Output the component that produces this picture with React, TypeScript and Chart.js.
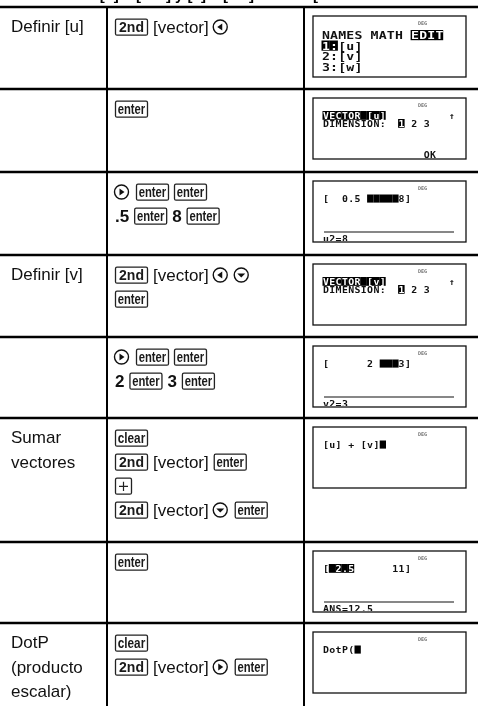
import React, { useEffect, useRef } from "react";
import { Chart, registerables } from "chart.js";

Chart.register(...registerables);

// ---- table data ----
const rowTops = [7, 89, 172, 255, 337, 418, 542, 623];
const tableBottom = 706;
const columnEdges = [107, 304];

const tasks = [
  "Definir [u]",
  "",
  "",
  "Definir [v]",
  "",
  "Sumar\nvectores",
  "",
  "DotP\n(producto\nescalar)",
];

const keystrokes: string[][][] = [
  [["key:2nd", "txt:[vector]", "arrow:left"]],
  [["key:enter"]],
  [["arrow:right", "key:enter", "key:enter"], ["num:.5", "key:enter", "num:8", "key:enter"]],
  [["key:2nd", "txt:[vector]", "arrow:left", "arrow:down"], ["key:enter"]],
  [["arrow:right", "key:enter", "key:enter"], ["num:2", "key:enter", "num:3", "key:enter"]],
  [["key:clear"], ["key:2nd", "txt:[vector]", "key:enter"], ["key:+"], ["key:2nd", "txt:[vector]", "arrow:down", "key:enter"]],
  [["key:enter"]],
  [["key:clear"], ["key:2nd", "txt:[vector]", "arrow:right", "key:enter"]],
];

const screenFonts = ["menu", "small", "small", "small", "small", "small", "small", "small"];
const screenLines: string[][] = [
  ["NAMES MATH ~EDIT~", "~1:~[u]", "2:[v]", "3:[w]"],
  ["~VECTOR [u]~          \u2191", "DIMENSION:  ~1~ 2 3"],
  ["[  0.5 #####8]"],
  ["~VECTOR [v]~          \u2191", "DIMENSION:  ~1~ 2 3"],
  ["[      2 ###3]"],
  ["[u] + [v]#"],
  ["[~ 2.5~      11]"],
  ["DotP(#"],
];
const screenStatus = ["", "                OK", "u2=8", "", "v2=3", "", "ANS=12.5", ""];
const screenRule = [false, false, true, false, true, false, true, false];

const headingText = "Definir [u] = [.5 8] y [v] = [2 3]. Sumar [u] y [v], hallar DotP([u], [v]).";

const SANS = "'Liberation Sans', Arial, sans-serif";
const MONO = "'DejaVu Sans Mono', monospace";

function drawScreenLine(ctx: CanvasRenderingContext2D, line: string, x0: number, top: number, menu: boolean) {
  const pitch = menu ? 8.1 : 6.3;
  const cap = menu ? 8 : 6.6;
  const sx = menu ? 1.2 : 1.1;
  ctx.font = menu ? `bold 11px ${MONO}` : `bold 9px ${MONO}`;
  let inv = false;
  let idx = 0;
  for (const ch of line) {
    if (ch === "~") {
      inv = !inv;
      continue;
    }
    const cx = x0 + idx * pitch;
    if (ch === "#") {
      ctx.fillStyle = "#000";
      ctx.fillRect(cx, top - 0.5, pitch, cap + 1.5);
    } else {
      if (inv) {
        ctx.fillStyle = "#000";
        ctx.fillRect(cx - 0.5, top - 1, pitch + 0.2, cap + 2.2);
      }
      if (ch !== " ") {
        ctx.save();
        ctx.fillStyle = inv ? "#fff" : "#111";
        ctx.translate(cx, top + cap);
        ctx.scale(sx, 1);
        ctx.fillText(ch, 0, 0);
        ctx.restore();
      }
    }
    idx++;
  }
}

function roundRect(ctx: CanvasRenderingContext2D, x: number, y: number, w: number, h: number, r: number) {
  ctx.beginPath();
  ctx.moveTo(x + r, y);
  ctx.lineTo(x + w - r, y);
  ctx.quadraticCurveTo(x + w, y, x + w, y + r);
  ctx.lineTo(x + w, y + h - r);
  ctx.quadraticCurveTo(x + w, y + h, x + w - r, y + h);
  ctx.lineTo(x + r, y + h);
  ctx.quadraticCurveTo(x, y + h, x, y + h - r);
  ctx.lineTo(x, y + r);
  ctx.quadraticCurveTo(x, y, x + r, y);
  ctx.closePath();
}

const tablePlugin = {
  id: "tableCells",
  afterDatasetsDraw(chart: any) {
    const ctx: CanvasRenderingContext2D = chart.ctx;
    const xs = chart.scales.x;
    const ys = chart.scales.y;
    const X = (v: number) => xs.getPixelForValue(v);
    const Y = (v: number) => ys.getPixelForValue(v);

    ctx.save();
    ctx.textBaseline = "alphabetic";
    ctx.textAlign = "left";

    // clipped heading line above the table
    ctx.save();
    ctx.beginPath();
    ctx.rect(X(40), Y(0), X(320) - X(40), Y(5) - Y(0));
    ctx.clip();
    ctx.fillStyle = "#000";
    ctx.font = `bold 15px ${SANS}`;
    ctx.fillText(headingText, X(48), Y(0));
    ctx.restore();

    rowTops.forEach((top, r) => {
      // column 1: task
      ctx.fillStyle = "#111";
      ctx.font = `17px ${SANS}`;
      tasks[r].split("\n").forEach((t, i) => {
        if (t) ctx.fillText(t, X(11), Y(top + 25 + i * 24.5));
      });

      // column 2: keystrokes
      keystrokes[r].forEach((tokens, li) => {
        const cy = Y(top + 20 + li * 24);
        let x = X(114);
        tokens.forEach((tok) => {
          const sep = tok.indexOf(":");
          const kind = tok.slice(0, sep);
          const val = tok.slice(sep + 1);
          if (kind === "key") {
            ctx.font = `bold 14px ${SANS}`;
            const w = val === "+" ? 16 : 32;
            ctx.strokeStyle = "#222";
            ctx.lineWidth = 1.3;
            roundRect(ctx, x + 1.5, cy - 7.8, w, 16, 1.5);
            ctx.stroke();
            if (val === "+") {
              ctx.beginPath();
              ctx.lineWidth = 1.2;
              ctx.moveTo(x + 1.5 + 3.5, cy + 0.3);
              ctx.lineTo(x + 1.5 + w - 3.5, cy + 0.3);
              ctx.moveTo(x + 1.5 + w / 2, cy - 4.3);
              ctx.lineTo(x + 1.5 + w / 2, cy + 4.9);
              ctx.stroke();
            } else {
              const tw = ctx.measureText(val).width;
              const maxW = 27.5;
              const s = tw > maxW ? maxW / tw : 1;
              ctx.save();
              ctx.fillStyle = "#1a1a1a";
              ctx.translate(x + 1.5 + (w - tw * s) / 2, cy + 4.9);
              ctx.scale(s, 1);
              ctx.fillText(val, 0, 0);
              ctx.restore();
            }
            x += w + 6;
          } else if (kind === "txt") {
            ctx.font = `17px ${SANS}`;
            ctx.fillStyle = "#111";
            ctx.fillText(val, x + 1, cy + 6);
            x += ctx.measureText(val).width + 5;
          } else if (kind === "num") {
            ctx.font = `bold 17px ${SANS}`;
            ctx.fillStyle = "#111";
            ctx.fillText(val, x + 1, cy + 6);
            x += ctx.measureText(val).width + 5;
          } else if (kind === "arrow") {
            const cx = x + 7.5;
            ctx.strokeStyle = "#111";
            ctx.lineWidth = 1.4;
            ctx.beginPath();
            ctx.arc(cx, cy, 7, 0, Math.PI * 2);
            ctx.stroke();
            ctx.fillStyle = "#111";
            ctx.beginPath();
            if (val === "left") {
              ctx.moveTo(cx - 3, cy);
              ctx.lineTo(cx + 2, cy - 3.6);
              ctx.lineTo(cx + 2, cy + 3.6);
            } else if (val === "right") {
              ctx.moveTo(cx + 3, cy);
              ctx.lineTo(cx - 2, cy - 3.6);
              ctx.lineTo(cx - 2, cy + 3.6);
            } else {
              ctx.moveTo(cx - 4, cy - 1.5);
              ctx.lineTo(cx + 4, cy - 1.5);
              ctx.lineTo(cx, cy + 2.5);
            }
            ctx.closePath();
            ctx.fill();
            x += 15 + 6;
          }
        });
      });

      // column 3: calculator screen
      const left = X(313);
      const right = X(466);
      const st = Y(top + 9);
      const sb = Y(top + 70);
      ctx.save();
      ctx.strokeStyle = "#111";
      ctx.lineWidth = 1.3;
      ctx.strokeRect(left, st, right - left, sb - st);
      ctx.beginPath();
      ctx.rect(left + 1, st + 1, right - left - 2, sb - st - 2);
      ctx.clip();
      ctx.fillStyle = "#777";
      ctx.font = `bold 5px ${MONO}`;
      ctx.fillText("DEG", left + 105, st + 9);
      const menu = screenFonts[r] === "menu";
      const x0 = menu ? left + 9 : left + 10;
      const lh = menu ? 10.5 : 8;
      const first = menu ? 15 : 14;
      screenLines[r].forEach((ln, k) => drawScreenLine(ctx, ln, x0, st + first + k * lh, menu));
      if (screenRule[r]) {
        ctx.strokeStyle = "#111";
        ctx.lineWidth = 1.2;
        ctx.beginPath();
        ctx.moveTo(left + 11, st + 51);
        ctx.lineTo(left + 141, st + 51);
        ctx.stroke();
      }
      if (screenStatus[r]) {
        drawScreenLine(ctx, screenStatus[r], x0, st + (screenRule[r] ? 54 : 53), false);
      }
      ctx.restore();
    });
    ctx.restore();
  },
};

export default function App() {
  const canvasRef = useRef<HTMLCanvasElement | null>(null);

  useEffect(() => {
    document.body.style.margin = "0";
    const canvas = canvasRef.current;
    if (!canvas) return;
    const horizontal = rowTops.map((y) => ({
      data: [
        { x: 0, y },
        { x: 478, y },
      ],
      borderWidth: 2.4,
    }));
    const vertical = columnEdges.map((x) => ({
      data: [
        { x, y: rowTops[0] },
        { x, y: tableBottom },
      ],
      borderWidth: 2,
    }));
    const datasets = [...horizontal, ...vertical].map((d) => ({
      ...d,
      borderColor: "#000",
      backgroundColor: "#000",
      showLine: true,
      pointRadius: 0,
      pointHoverRadius: 0,
      tension: 0,
      fill: false,
      clip: false as any,
    }));
    const chart = new Chart(canvas, {
      type: "scatter",
      data: { datasets },
      options: {
        animation: false,
        responsive: true,
        maintainAspectRatio: false,
        events: [],
        layout: { padding: 0 },
        plugins: { legend: { display: false }, tooltip: { enabled: false } },
        scales: {
          x: { type: "linear", min: 0, max: 478, display: false },
          y: { type: "linear", min: 0, max: tableBottom, reverse: true, display: false },
        },
      },
      plugins: [tablePlugin],
    });
    return () => chart.destroy();
  }, []);

  return (
    <div style={{ position: "absolute", left: 0, top: 0, width: 478, height: 706, background: "#fff" }}>
      <canvas ref={canvasRef} />
    </div>
  );
}
